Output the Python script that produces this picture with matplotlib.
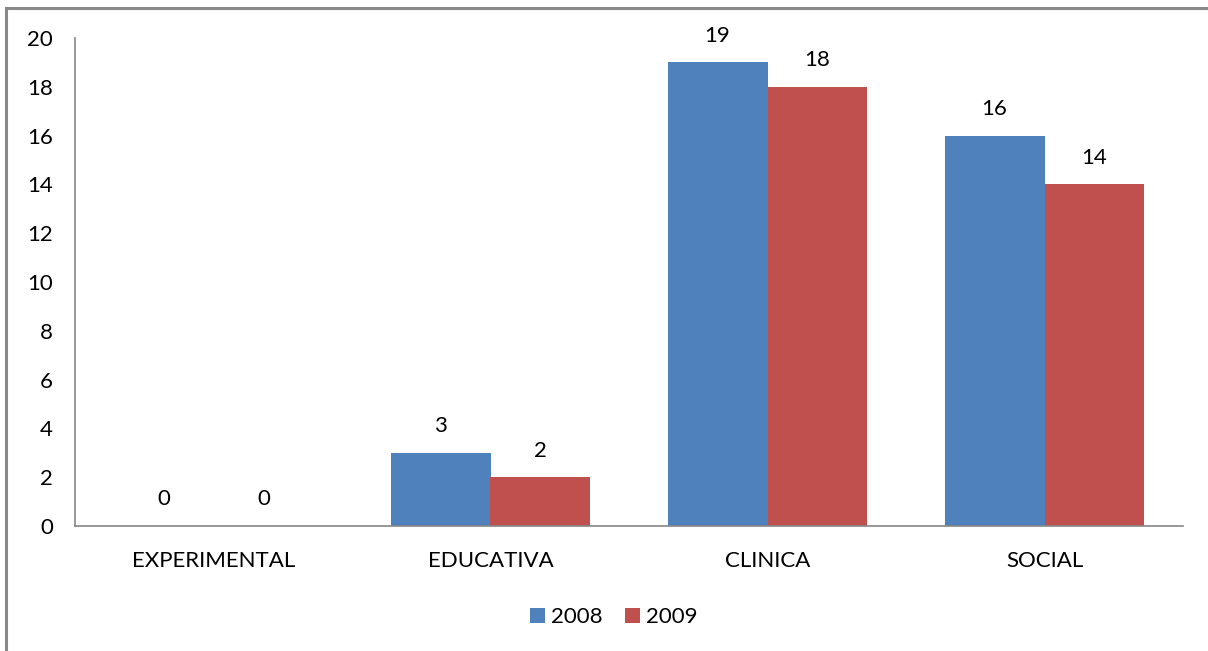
import matplotlib
matplotlib.use("Agg")
import matplotlib.pyplot as plt
from matplotlib.lines import Line2D
import numpy as np

categories = ["EXPERIMENTAL", "EDUCATIVA", "CLINICA", "SOCIAL"]
series_names = ["2008", "2009"]
values_2008 = [0, 3, 19, 16]
values_2009 = [0, 2, 18, 14]
colors = ["#4F81BD", "#C0504D"]

plt.rcParams['font.family'] = ['Lato', 'DejaVu Sans']

fig = plt.figure(figsize=(12.08, 6.51), dpi=100)
ax = fig.add_axes([75/1208, 1-526/651, (1183-75)/1208, (526-38)/651])

x = np.arange(len(categories))
w = 0.361
for i, (vals, name) in enumerate(zip([values_2008, values_2009], series_names)):
    pos = x + (i - 0.5) * w
    ax.bar(pos, vals, width=w, color=colors[i], label=name)
    for xp, v in zip(pos, vals):
        ax.annotate(str(v), (xp, v), xytext=(0, 12), textcoords="offset points",
                    ha="center", va="bottom", fontsize=16, color="#000000")

ax.set_xlim(-0.5, 3.5)
ax.set_ylim(0, 20)
ax.set_yticks(range(0, 21, 2))
ax.set_xticks(x)
ax.set_xticklabels(categories)
ax.tick_params(axis='both', length=0, labelsize=16, colors="#000000")
ax.tick_params(axis='x', pad=18)
ax.tick_params(axis='y', pad=16)
for s in ["top", "right"]:
    ax.spines[s].set_visible(False)
for s in ["left", "bottom"]:
    ax.spines[s].set_color("#868686")
    ax.spines[s].set_linewidth(1.2)

fig.legend(loc="center", bbox_to_anchor=(614/1208, 1-617/651), ncol=2, frameon=False,
           fontsize=16, handlelength=0.65, handleheight=0.65, handletextpad=0.3,
           columnspacing=1.0)

# outer chart border (top and left visible)
fig.add_artist(Line2D([6/1208, 1.0], [1-8/651, 1-8/651], transform=fig.transFigure,
                      color="#888888", linewidth=2.2))
fig.add_artist(Line2D([6/1208, 6/1208], [0, 1-8/651], transform=fig.transFigure,
                      color="#888888", linewidth=2.2))

fig.savefig("out.png", dpi=100)
